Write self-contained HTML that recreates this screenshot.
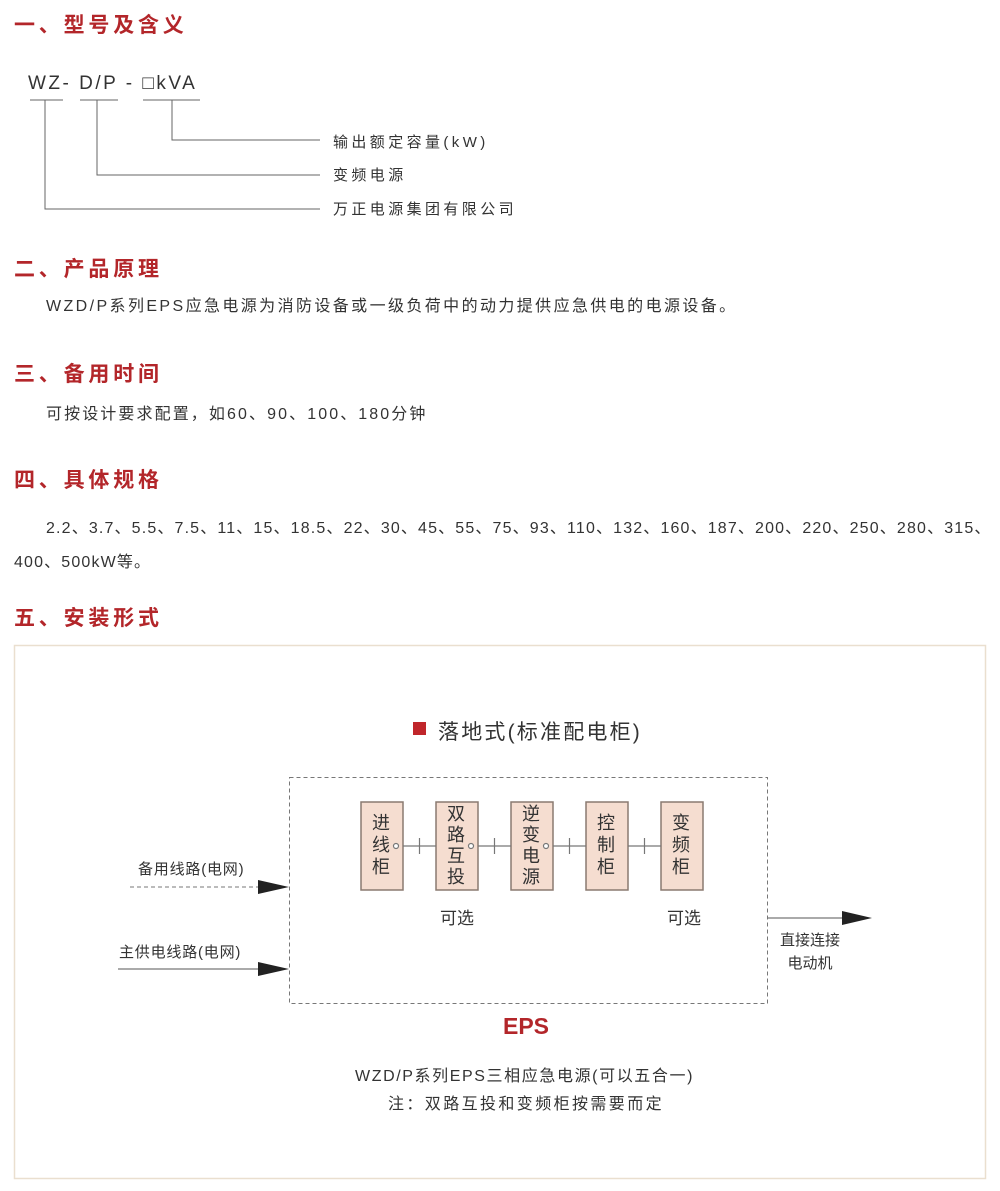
<!DOCTYPE html>
<html><head><meta charset="utf-8">
<style>
body{margin:0;background:#fff;width:1000px;height:1191px;position:relative;overflow:hidden;font-family:"Liberation Sans","Noto Sans CJK SC",sans-serif;color:#333}
.a{position:absolute;white-space:nowrap}
.h{color:#b3262a;font-size:21px;font-weight:bold;letter-spacing:3.8px;left:14px}
.t{font-size:16px;color:#333}
svg{position:absolute;left:0;top:0}
</style></head><body>
<div class="a h" style="top:9px">一、型号及含义</div>
<div class="a" style="left:28px;top:73px;font-size:19px;letter-spacing:2.5px;color:#333">WZ- D/P - □kVA</div>
<div class="a" style="left:333px;top:131px;font-size:15px;letter-spacing:3.4px">输出额定容量(kW)</div>
<div class="a" style="left:333px;top:164px;font-size:15px;letter-spacing:3.4px">变频电源</div>
<div class="a" style="left:333px;top:198px;font-size:15px;letter-spacing:3.4px">万正电源集团有限公司</div>

<div class="a h" style="top:253px">二、产品原理</div>
<div class="a t" style="left:46px;top:292px;letter-spacing:2.4px">WZD/P系列EPS应急电源为消防设备或一级负荷中的动力提供应急供电的电源设备。</div>
<div class="a h" style="top:358px">三、备用时间</div>
<div class="a t" style="left:46px;top:400px;letter-spacing:2.1px">可按设计要求配置，如60、90、100、180分钟</div>
<div class="a h" style="top:464px">四、具体规格</div>
<div class="a t" style="left:46px;top:514px;letter-spacing:1.15px">2.2、3.7、5.5、7.5、11、15、18.5、22、30、45、55、75、93、110、132、160、187、200、220、250、280、315、</div>
<div class="a t" style="left:14px;top:548px;letter-spacing:1.15px">400、500kW等。</div>
<div class="a h" style="top:602px">五、安装形式</div>

<svg width="1000" height="1191">
<g stroke="#666" stroke-width="1" fill="none">
<path d="M30 100H63M80 100H118M143 100H200"/>
<path d="M45 100V209H320M97 100V175H320M172 100V140H320"/>
</g>
<rect x="14.5" y="645.5" width="971" height="533" fill="none" stroke="#eadfcf" stroke-width="1.5"/>
<rect x="289.5" y="777.5" width="478" height="226" fill="none" stroke="#777" stroke-dasharray="4,3"/>
<rect x="413" y="722" width="13" height="13" fill="#c0262b"/>
<g fill="#f5ddd0" stroke="#8a7a70" stroke-width="1.5">
<rect x="361" y="802" width="42" height="88"/>
<rect x="436" y="802" width="42" height="88"/>
<rect x="511" y="802" width="42" height="88"/>
<rect x="586" y="802" width="42" height="88"/>
<rect x="661" y="802" width="42" height="88"/>
</g>
<g stroke="#777" stroke-width="1.2" fill="none">
<path d="M403 846H436M478 846H511M553 846H586M628 846H661"/>
<path d="M419.5 838V854M494.5 838V854M569.5 838V854M644.5 838V854"/>
<circle cx="396" cy="846" r="2.5" fill="#fff"/>
<circle cx="471" cy="846" r="2.5" fill="#fff"/>
<circle cx="546" cy="846" r="2.5" fill="#fff"/>
</g>
<path d="M130 887H258" stroke="#777" stroke-dasharray="4,3"/>
<path d="M118 969H258M767 918H842" stroke="#777" stroke-width="1.3"/>
<polygon points="258,880 289,887 258,894" fill="#222"/>
<polygon points="258,962 289,969 258,976" fill="#222"/>
<polygon points="842,911 872,918 842,925" fill="#222"/>
</svg>

<div class="a" style="left:438px;top:716px;font-size:21px;letter-spacing:2.2px;color:#333">落地式(标准配电柜)</div>
<div class="a" style="left:372px;top:812px;font-size:18px;line-height:22px;width:20px;white-space:normal">进线柜</div>
<div class="a" style="left:447px;top:804px;font-size:18px;line-height:21px;width:20px;white-space:normal">双路互投</div>
<div class="a" style="left:522px;top:804px;font-size:18px;line-height:21px;width:20px;white-space:normal">逆变电源</div>
<div class="a" style="left:597px;top:812px;font-size:18px;line-height:22px;width:20px;white-space:normal">控制柜</div>
<div class="a" style="left:672px;top:812px;font-size:18px;line-height:22px;width:20px;white-space:normal">变频柜</div>
<div class="a" style="left:440px;top:904px;font-size:17px">可选</div>
<div class="a" style="left:667px;top:904px;font-size:17px">可选</div>
<div class="a" style="left:138px;top:858px;font-size:15px;letter-spacing:0.8px">备用线路(电网)</div>
<div class="a" style="left:119px;top:941px;font-size:15px;letter-spacing:0.8px">主供电线路(电网)</div>
<div class="a" style="left:775px;top:929px;font-size:15px;line-height:23px;text-align:center;width:70px;white-space:normal">直接连接<br>电动机</div>
<div class="a" style="left:503px;top:1013px;font-size:23px;font-weight:bold;color:#b3262a">EPS</div>
<div class="a t" style="left:355px;top:1062px;letter-spacing:1.6px">WZD/P系列EPS三相应急电源(可以五合一)</div>
<div class="a t" style="left:388px;top:1090px;letter-spacing:2.4px">注：双路互投和变频柜按需要而定</div>
</body></html>
